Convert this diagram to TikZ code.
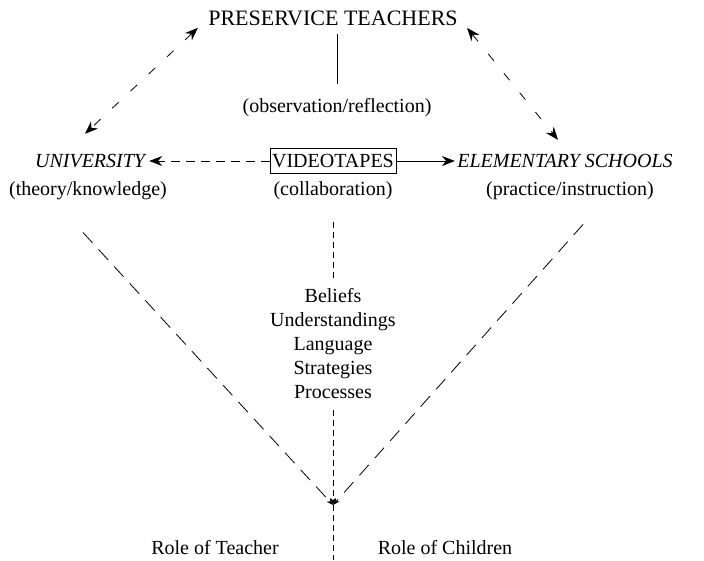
\documentclass[tikz,border=0pt]{standalone}
\usepackage{fontspec}
\setmainfont{Liberation Serif}
\usetikzlibrary{arrows.meta}
\begin{document}
\begin{tikzpicture}[x=1pt, y=-1pt, font=\fontsize{20}{24}\selectfont,
  line width=0.8pt, inner sep=2pt,
  >={Stealth[length=13pt,width=10pt]},
  smallhead/.style={-{Stealth[length=7pt,width=5pt]}}]
\useasboundingbox (0,0) rectangle (704,560);

% in alto
\node[font=\fontsize{22}{26}\selectfont] (pt) at (333,18) {PRESERVICE TEACHERS};
\node[] (obs) at (337,108) {(observation/reflection)};
\draw[shorten <=6pt, shorten >=12pt] (pt.south -| obs.north) -- (obs.north);

% riga centrale
\node[] (univ) at (91,161) {\textit{UNIVERSITY}};
\node[draw, line width=0.5pt, minimum height=25pt] (video) at (333,161) {VIDEOTAPES};
\node[] (elem) at (565,161) {\textit{ELEMENTARY SCHOOLS}};
\draw[->, dash pattern=on 9pt off 6pt] (video) -- (univ);
\draw[->] (video) -- (elem);

\node[] (theory) at (88,191) {(theory/knowledge)};
\node[] (collab) at (333,191) {(collaboration)};
\node[] (practice) at (570,191) {(practice/instruction)};

% lati
\begin{scope}[dash pattern=on 9pt off 16pt]
\draw[<->] ([xshift=-8pt]pt.south west) -- ([xshift=-6pt,yshift=18pt]univ.north);
\draw[<->] ([xshift=7pt]pt.south east) -- ([xshift=-7pt,yshift=12pt]elem.north);
\end{scope}

% colonna
\node[align=center] (list) at (333,344) {Beliefs\\Understandings\\Language\\Strategies\\Processes};
\coordinate (meet) at (333,505);
\coordinate (bot) at (333,560);

\begin{scope}[dash pattern=on 14pt off 9pt]
\draw[smallhead] ([xshift=-5pt,yshift=-30pt]theory.south) -- (meet);
\draw[smallhead] ([xshift=13pt,yshift=-22pt]practice.south) -- (meet);
\end{scope}
\begin{scope}[dash pattern=on 6pt off 4pt, line width=0.6pt]
\draw[shorten <=20pt, shorten >=6pt] (collab.south) -- (list.north);
\draw[smallhead, shorten <=8pt] (list.south) -- (meet);
\draw (meet) -- (bot);
\end{scope}

% in basso
\node[] (teach) at (215,548) {Role of Teacher};
\node[] (child) at (445,548) {Role of Children};

\end{tikzpicture}
\end{document}
